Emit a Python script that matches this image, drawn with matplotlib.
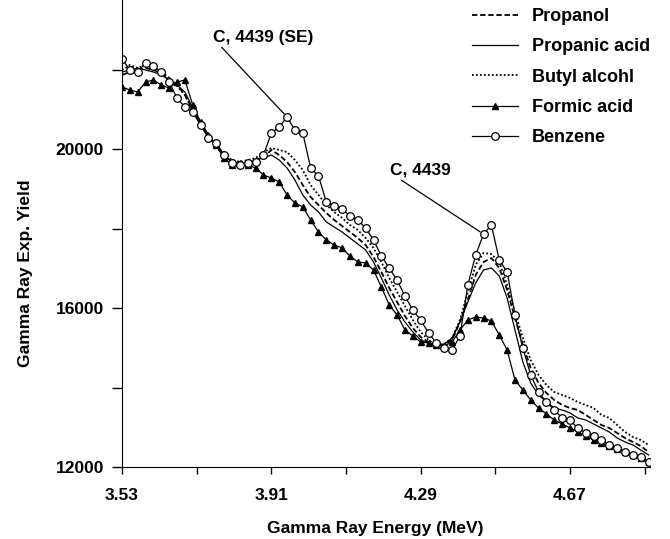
import matplotlib
matplotlib.use("Agg")
import matplotlib.pyplot as plt
from matplotlib.ticker import FixedLocator

plt.rcParams['font.family'] = ['Liberation Sans', 'DejaVu Sans']
plt.rcParams['font.weight'] = 'bold'

energy = [3.53, 3.55, 3.57, 3.59, 3.61, 3.63, 3.65, 3.67, 3.69, 3.71,
          3.73, 3.75, 3.77, 3.79, 3.81, 3.83, 3.85, 3.87, 3.89, 3.91,
          3.93, 3.95, 3.97, 3.99, 4.01, 4.03, 4.05, 4.07, 4.09, 4.11,
          4.13, 4.15, 4.17, 4.19, 4.21, 4.23, 4.25, 4.27, 4.29, 4.31,
          4.33, 4.35, 4.37, 4.39, 4.41, 4.43, 4.45, 4.47, 4.49, 4.51,
          4.53, 4.55, 4.57, 4.59, 4.61, 4.63, 4.65, 4.67, 4.69, 4.71,
          4.73, 4.75, 4.77, 4.79, 4.81, 4.83, 4.85, 4.87]

propanol = [21863, 21938, 21989, 22039, 21989, 21913, 21787, 21611, 21360, 20982,
            20630, 20303, 20051, 19825, 19674, 19649, 19674, 19724, 19800, 19976,
            19850, 19674, 19422, 19095, 18793, 18592, 18391, 18215, 18064, 17913,
            17762, 17586, 17284, 16906, 16504, 16151, 15799, 15497, 15271, 15145,
            15070, 15070, 15195, 15648, 16202, 16831, 17158, 17258, 17007, 16453,
            15749, 15070, 14491, 14113, 13862, 13686, 13560, 13484, 13434, 13308,
            13183, 13057, 12981, 12855, 12730, 12629, 12528, 12377]

propanic = [21938, 21989, 22039, 21989, 21938, 21863, 21737, 21611, 21435, 21032,
            20680, 20353, 20102, 19850, 19674, 19623, 19649, 19724, 19774, 19850,
            19724, 19523, 19221, 18844, 18592, 18416, 18164, 18038, 17913, 17762,
            17611, 17460, 17158, 16755, 16328, 15950, 15648, 15397, 15195, 15120,
            15044, 15095, 15246, 15648, 16151, 16629, 16957, 17007, 16806, 16252,
            15447, 14642, 14113, 13812, 13635, 13484, 13434, 13359, 13233, 13183,
            13082, 12981, 12881, 12730, 12629, 12554, 12428, 12302]

butyl = [21989, 22114, 22039, 22114, 22039, 21938, 21787, 21586, 21360, 20982,
         20655, 20328, 20076, 19850, 19724, 19674, 19724, 19774, 19925, 20026,
         19976, 19925, 19724, 19473, 19095, 18844, 18592, 18416, 18265, 18089,
         17963, 17762, 17510, 17158, 16755, 16403, 16051, 15699, 15397, 15195,
         15070, 15095, 15246, 15699, 16403, 17082, 17384, 17359, 17158, 16579,
         15900, 15246, 14692, 14315, 14063, 13887, 13812, 13736, 13635, 13560,
         13484, 13308, 13233, 13057, 12881, 12755, 12679, 12554]

formic = [21561, 21485, 21435, 21687, 21737, 21611, 21536, 21687, 21737, 21108,
          20680, 20353, 20102, 19774, 19598, 19649, 19598, 19523, 19347, 19271,
          19171, 18844, 18642, 18542, 18215, 17913, 17711, 17586, 17510, 17309,
          17158, 17133, 16957, 16529, 16076, 15824, 15447, 15296, 15145, 15120,
          15070, 15044, 15145, 15447, 15699, 15774, 15749, 15673, 15321, 14944,
          14189, 13937, 13686, 13484, 13333, 13183, 13082, 12981, 12881, 12780,
          12679, 12604, 12528, 12453, 12377, 12302, 12226, 12126]

benzene = [22265, 21990, 21940, 22165, 22090, 21940, 21690, 21280, 21060, 20930,
           20600, 20280, 20150, 19850, 19650, 19600, 19650, 19675, 19850, 20400,
           20555, 20805, 20480, 20400, 19525, 19320, 18665, 18570, 18490, 18315,
           18215, 18015, 17710, 17310, 17005, 16705, 16300, 15950, 15700, 15370,
           15120, 14995, 14945, 15295, 16580, 17335, 17860, 18085, 17210, 16905,
           15825, 14995, 14315, 13885, 13635, 13435, 13230, 13180, 12980, 12855,
           12780, 12680, 12555, 12480, 12375, 12300, 12250, 12125]

fig = plt.figure(figsize=(6.7, 5.39), dpi=100)
ax = fig.add_axes([0.1821, 0.1336, 0.788, 0.8664])

ax.plot(energy, propanol, color='black', lw=1.3, ls=(0, (3, 1.5)), label='Propanol')
ax.plot(energy, propanic, color='black', lw=0.9, label='Propanic acid')
ax.plot(energy, butyl, color='black', lw=1.3, ls=(0, (1, 1.2)), label='Butyl alcohl')
ax.plot(energy, formic, color='black', lw=0.9, marker='^', ms=5, label='Formic acid')
ax.plot(energy, benzene, color='black', lw=0.9, marker='o', ms=5.5, mfc='white',
        mew=0.9, label='Benzene')

ax.set_xlim(3.53, 4.8735)
ax.set_ylim(12000, 23750)
ax.spines['top'].set_visible(False)
ax.spines['right'].set_visible(False)
ax.xaxis.set_major_locator(FixedLocator([3.53, 3.91, 4.29, 4.67]))
ax.xaxis.set_minor_locator(FixedLocator([3.72, 4.10, 4.48, 4.86]))
ax.yaxis.set_major_locator(FixedLocator([12000, 16000, 20000]))
ax.yaxis.set_minor_locator(FixedLocator([14000, 18000, 22000]))
ax.tick_params(axis='x', which='both', direction='out', length=5, width=1,
               labelsize=12.5, pad=10)
ax.tick_params(axis='y', which='both', direction='out', length=7, width=1,
               labelsize=12.5, pad=6)
ax.set_xlabel('Gamma Ray Energy (MeV)', fontsize=12.5, fontweight='bold', va='top')
ax.xaxis.set_label_coords(0.479, -0.1156)
ax.set_ylabel('Gamma Ray Exp. Yield', fontsize=12.5, fontweight='bold')
ax.yaxis.set_label_coords(-0.1686, 0.415)

ax.annotate('C, 4439 (SE)', xy=(energy[21], benzene[21]), xytext=(3.7616, 22819),
            fontsize=12.5, fontweight='bold', va='center', annotation_clip=False,
            arrowprops=dict(arrowstyle='-', color='black', lw=0.9, shrinkA=0, shrinkB=3,
                            relpos=(0.06, 0)))
ax.annotate('C, 4439', xy=(energy[46], benzene[46]), xytext=(4.212, 19473),
            fontsize=12.5, fontweight='bold', va='center',
            arrowprops=dict(arrowstyle='-', color='black', lw=0.9, shrinkA=0, shrinkB=3,
                            relpos=(0.12, 0)))

fig.legend(loc='upper left', bbox_to_anchor=(472 / 670, 1 - 8 / 539), frameon=False,
           fontsize=13, handlelength=2.55, labelspacing=0.74, handletextpad=0.78,
           borderpad=0, borderaxespad=0)

fig.savefig('out.png', dpi=100)
